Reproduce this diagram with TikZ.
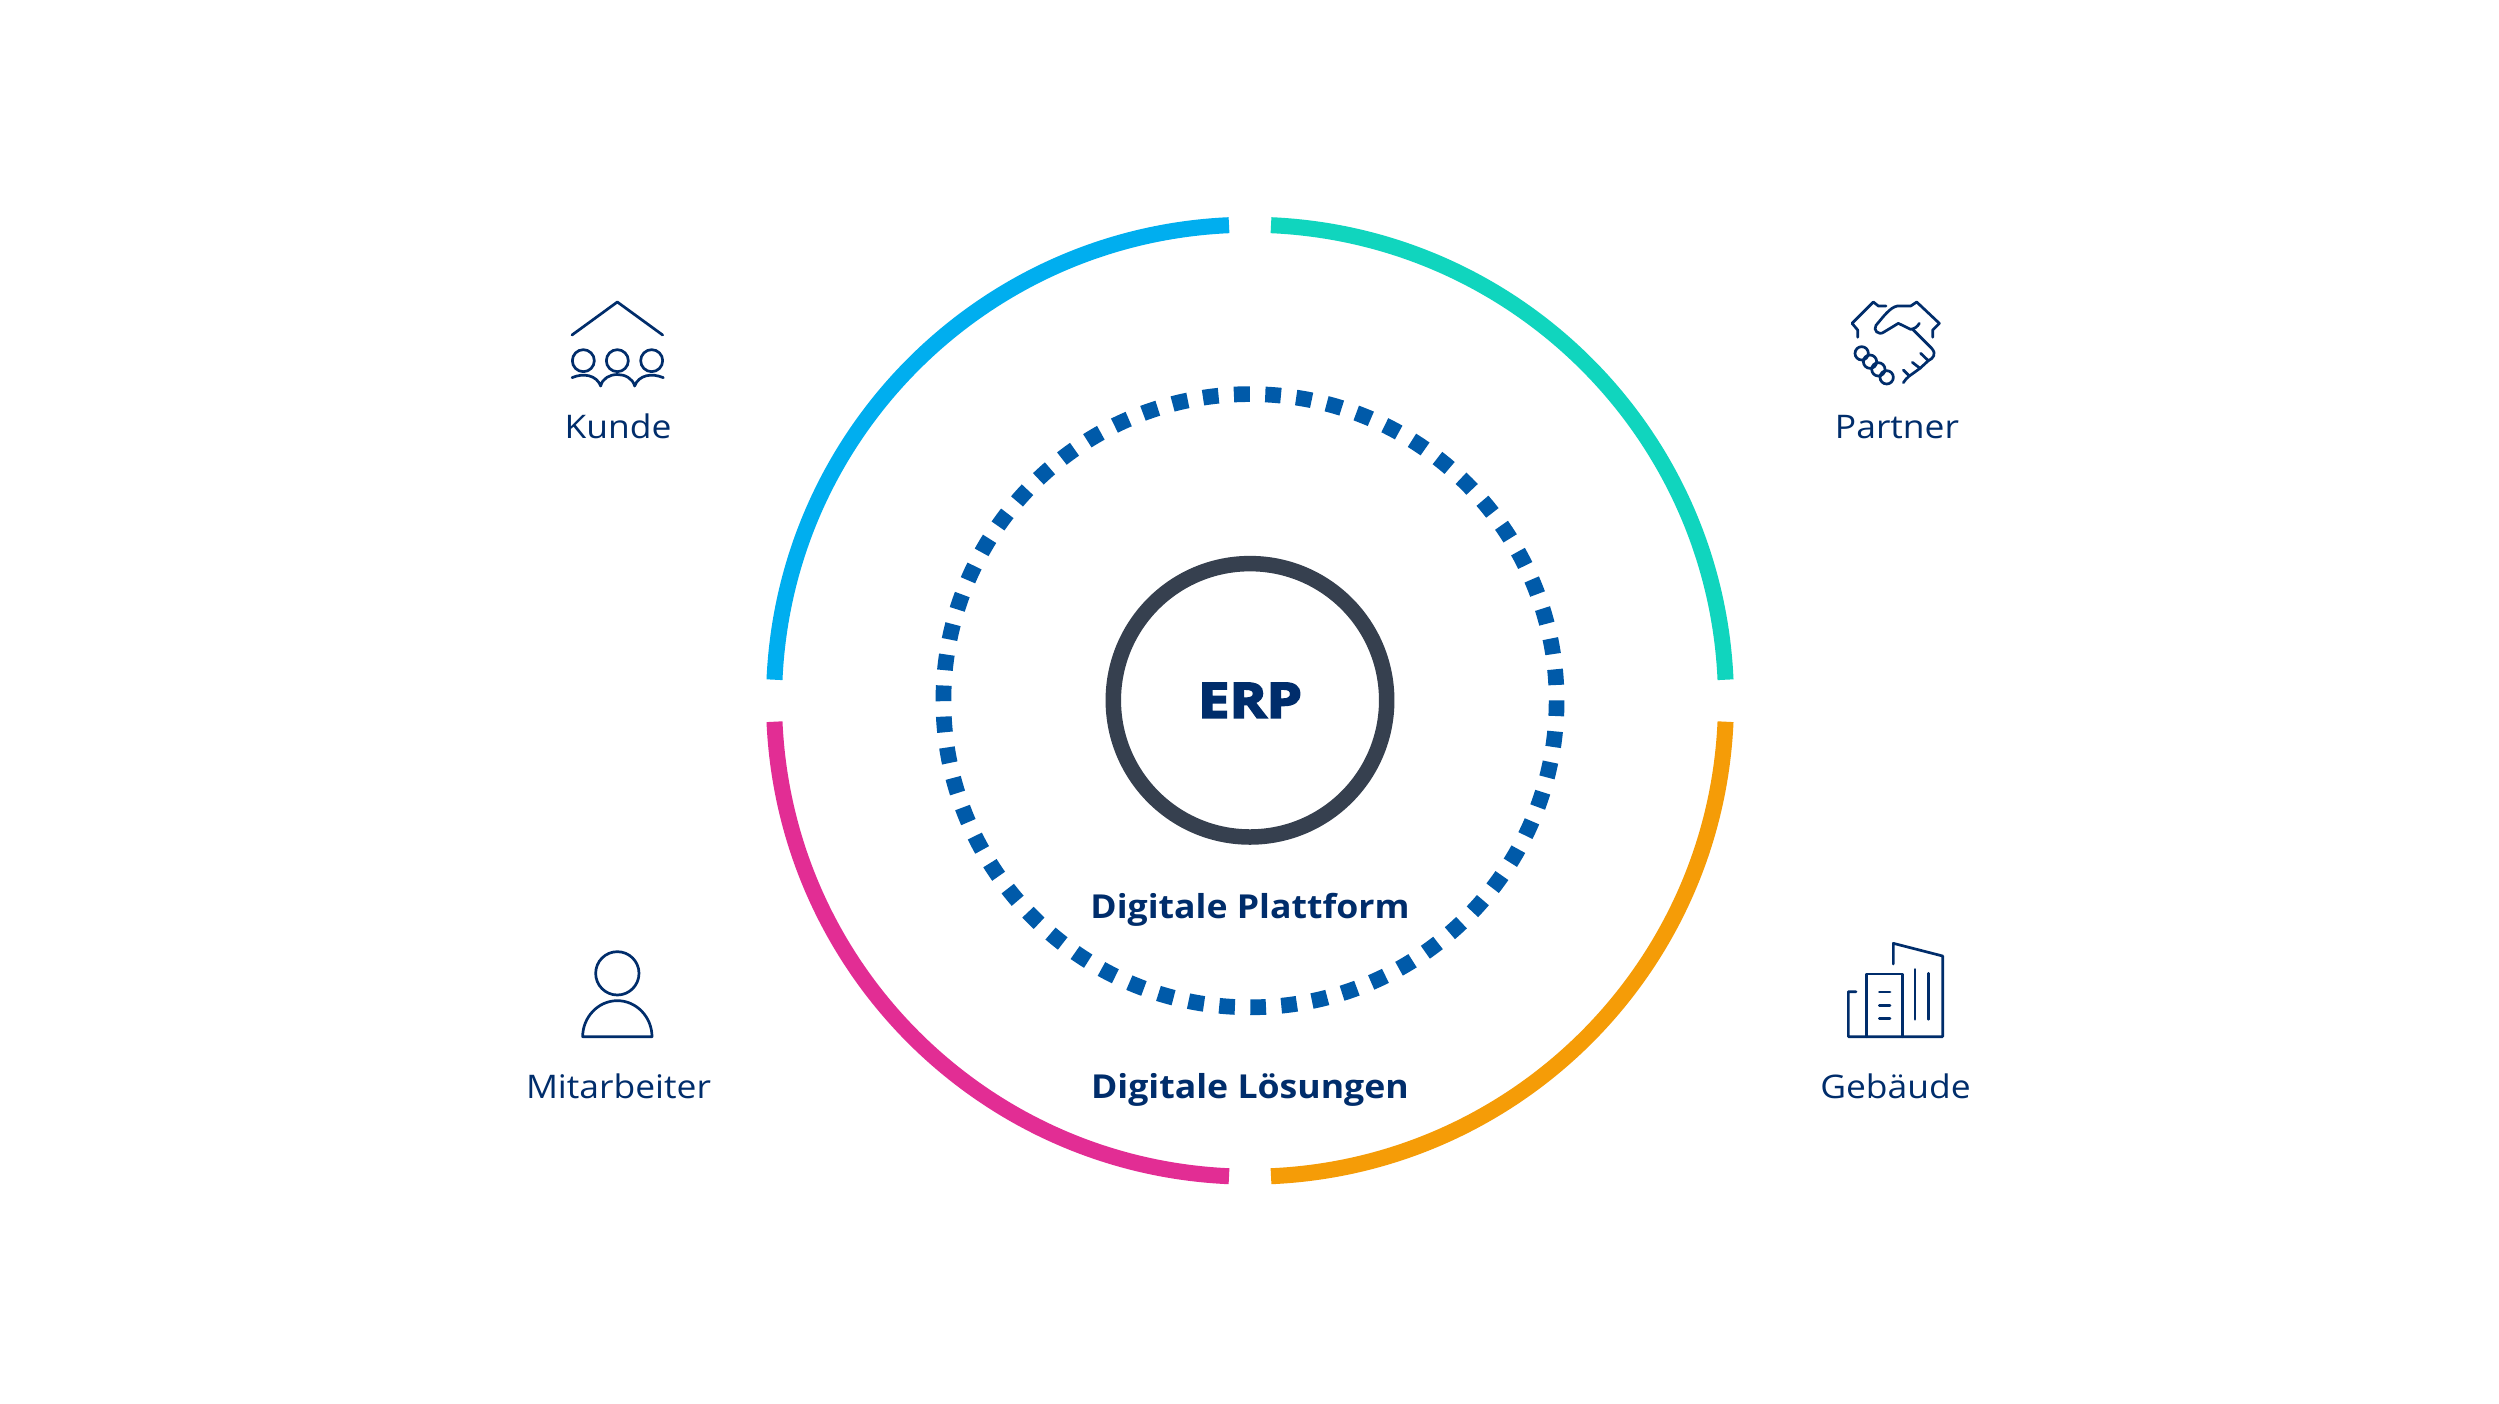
\documentclass[tikz,border=0pt]{standalone}
\usepackage{fontspec}
\setmainfont{Open Sans}[FakeStretch=1.09]
\newfontfamily\labelbold{Open Sans}[FakeStretch=1.08]
\newfontfamily\labelheavy{Open Sans}[BoldFeatures={FakeBold=4},FakeStretch=1.16]
\definecolor{navy}{HTML}{002D6B}
\definecolor{ringcyan}{HTML}{00AEEF}
\definecolor{ringteal}{HTML}{10D5BE}
\definecolor{ringorange}{HTML}{F59C07}
\definecolor{ringpink}{HTML}{E22D94}
\definecolor{hubdark}{HTML}{36404F}
\definecolor{dotblue}{HTML}{005AA9}
\tikzset{
  ring/.style={line width=16pt,line cap=butt},
  dotring/.style={line width=15.7pt,draw=dotblue,dash pattern=on 15.7pt off 15.37pt},
  icon/.style={draw=navy,line width=2.7pt,line cap=round,line join=round,x=1pt/3,y=-1pt/3},
  caption/.style={text=navy,anchor=base,inner sep=0pt,font=\fontsize{32.5}{39}\selectfont},
  captionb/.style={text=navy,anchor=base,inner sep=0pt,font=\labelbold\bfseries\fontsize{33}{40}\selectfont},
}
\begin{document}
\begin{tikzpicture}[x=1pt,y=-1pt]
\useasboundingbox[fill=white] (0,0) rectangle (2499,1403);
% rings
\begin{scope}[shift={(1250,700.7)},y=1pt]
\draw[ring,ringcyan] (92.53:476) arc (92.53:177.47:476);
\draw[ring,ringteal] (87.47:476) arc (87.47:2.53:476);
\draw[ring,ringpink] (182.53:476) arc (182.53:267.47:476);
\draw[ring,ringorange] (357.47:476) arc (357.47:272.53:476);
\draw[dotring] (90.08:306.6) arc (90.08:450.08:306.6);
\end{scope}
\node (erp) at (1250,700.3) [circle,draw=hubdark,line width=15.5pt,minimum size=273.4pt,inner sep=0pt,text=navy,font=\labelheavy\bfseries\fontsize{48.5}{60}\selectfont] {ERP};
\node (platform) at (1250,918) [captionb] {Digitale Plattform};
\node (loesungen) at (1250,1098) [captionb] {Digitale Lösungen};
\node (kunde) at (618,438) [caption] {Kunde};
\node (partner) at (1897,438) [caption] {Partner};
\node (mitarbeiter) at (618.5,1098) [caption] {Mitarbeiter};
\node (gebaeude) at (1895.5,1098) [caption] {Gebäude};
% Kunde icon
\begin{scope}[shift={(540,280)},icon]
\draw[icon] (96,165) -- (232,66) -- (368,165);
\foreach \cx in {130,232,335} \draw[icon] (\cx,242) circle[radius=33];
\draw[icon] (96,293) .. controls (130,278) and (170,285) .. (182,318)
  .. controls (192,272) and (272,272) .. (284,318)
  .. controls (296,285) and (335,278) .. (370,293);
\end{scope}
% Partner icon
\begin{scope}[shift={(1820,280)},icon]
\draw[icon] (113,172) -- (113,150) -- (96,130) -- (160,66) -- (175,78) -- (198,78);
\draw[icon] (338,172) -- (338,150) -- (358,130) -- (290,66) -- (272,78) -- (232,78)
  .. controls (210,82) and (190,110) .. (168,136)
  .. controls (158,150) and (175,168) .. (192,156)
  -- (235,130) -- (272,148) .. controls (285,146) and (292,140) .. (298,130);
\draw[icon] (278,148) -- (335,205) .. controls (350,222) and (340,235) .. (325,242)
  -- (300,265) -- (268,288) .. controls (262,292) and (255,300) .. (250,308);
\draw[icon] (302,220) -- (325,242);
\draw[icon] (277,247) -- (300,265);
\draw[icon] (250,270) -- (268,288);
\foreach \cx/\cy in {125/220,150/245,175/268,200/292} \draw[icon] (\cx,\cy) circle[radius=20];
\end{scope}
% Mitarbeiter icon
\begin{scope}[shift={(510,930)},icon]
\draw[icon] (322,130) circle[radius=65];
\draw[icon] (218,320) .. controls (218,262) and (264,212) .. (322,212)
  .. controls (380,212) and (426,262) .. (426,320) -- cycle;
\end{scope}
% Gebaeude icon
\begin{scope}[shift={(1810,930)},icon]
\draw[icon] (250,102) -- (250,40) -- (398,78) -- (398,320) -- (115,320) -- (115,185) -- (138,185);
\draw[icon] (170,320) -- (170,132) -- (277,132) -- (277,320);
\foreach \ly in {186,226,265} \draw[icon] (208,\ly) -- (240,\ly);
\draw[icon] (315,118) -- (315,268);
\draw[icon] (356,130) -- (356,268);
\end{scope}
\end{tikzpicture}
\end{document}
